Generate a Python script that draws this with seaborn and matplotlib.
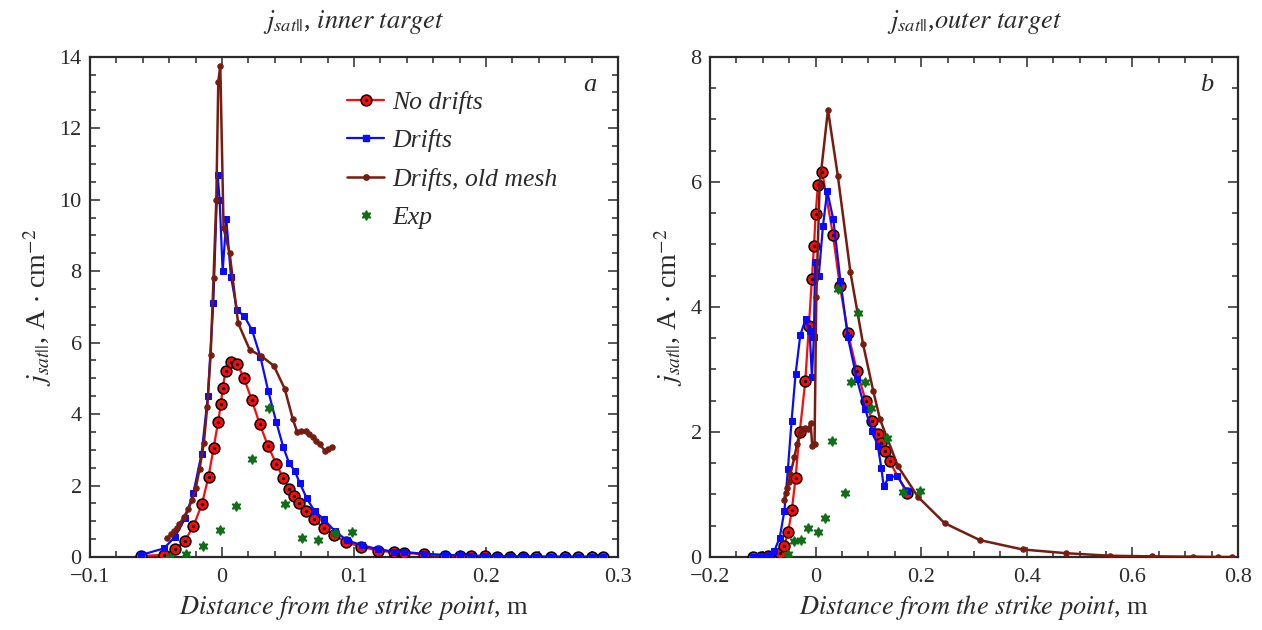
import numpy as np
import pandas as pd
import matplotlib
matplotlib.use("Agg")
import matplotlib.pyplot as plt
import seaborn as sns
from matplotlib.lines import Line2D
from matplotlib.legend_handler import HandlerTuple
from matplotlib.ticker import MultipleLocator

# ---- inner target (panel a) ----
in_nodrift_x = [-0.061, -0.044, -0.0355, -0.028, -0.0216, -0.0152, -0.0102, -0.0064, -0.003, -0.0008,
                0.0005, 0.0027, 0.0065, 0.0116, 0.0165, 0.0225, 0.0286, 0.0347, 0.0411, 0.0464,
                0.0509, 0.0548, 0.0585, 0.0639, 0.070, 0.077, 0.0849, 0.094, 0.105, 0.118,
                0.130, 0.138, 0.153, 0.169, 0.180, 0.189, 0.199, 0.208, 0.218, 0.228,
                0.238, 0.249, 0.260, 0.270, 0.280, 0.289]
in_nodrift_y = [0.03, 0.06, 0.21, 0.46, 0.87, 1.48, 2.25, 3.04, 3.77, 4.28,
                4.72, 5.21, 5.45, 5.40, 5.02, 4.40, 3.72, 3.12, 2.61, 2.20,
                1.91, 1.72, 1.51, 1.28, 1.05, 0.81, 0.61, 0.41, 0.29, 0.18,
                0.13, 0.12, 0.07, 0.04, 0.03, 0.02, 0.02, 0.01, 0.01, 0.01,
                0.01, 0.0, 0.0, 0.0, 0.0, 0.0]

in_drift_x = [-0.061, -0.044, -0.0355, -0.028, -0.0216, -0.0155, -0.0107, -0.0066, -0.0033, -0.0018,
              0.0005, 0.0033, 0.0068, 0.0114, 0.0167, 0.0228, 0.0291, 0.035, 0.0411, 0.0464,
              0.0509, 0.055, 0.0588, 0.0641, 0.0702, 0.077, 0.0854, 0.0945, 0.1057, 0.118,
              0.130, 0.138, 0.153, 0.169, 0.180, 0.189, 0.199, 0.208, 0.218, 0.228,
              0.238, 0.249, 0.260, 0.270, 0.280, 0.289]
in_drift_y = [0.06, 0.24, 0.57, 1.08, 1.80, 2.88, 4.50, 7.10, 10.70, 10.0,
              8.0, 9.45, 7.85, 6.90, 6.75, 6.35, 5.60, 4.65, 3.78, 3.08,
              2.62, 2.42, 2.08, 1.65, 1.28, 1.06, 0.73, 0.47, 0.33, 0.22,
              0.15, 0.14, 0.09, 0.06, 0.05, 0.04, 0.03, 0.02, 0.02, 0.02,
              0.01, 0.01, 0.01, 0.01, 0.01, 0.01]

in_old_x = [-0.0414, -0.0386, -0.0363, -0.0343, -0.0322, -0.0287, -0.0256, -0.0226, -0.0198, -0.017,
            -0.0137, -0.0112, -0.0086, -0.0064, -0.0043, -0.0028, -0.0013, 0.0012, 0.0058, 0.0122,
            0.021, 0.0299, 0.0393, 0.0476, 0.0537, 0.057, 0.0601, 0.0633, 0.0661, 0.0687,
            0.0712, 0.0742, 0.0778, 0.0806, 0.0831]
in_old_y = [0.52, 0.64, 0.73, 0.82, 0.92, 1.13, 1.34, 1.60, 1.94, 2.46,
            3.20, 4.20, 5.65, 7.80, 10.0, 13.3, 13.75, 9.2, 8.5, 6.55,
            5.80, 5.62, 5.35, 4.70, 3.85, 3.50, 3.52, 3.52, 3.45, 3.35,
            3.26, 3.15, 2.98, 3.01, 3.07]

in_exp_x = [-0.0393, -0.0272, -0.0145, -0.0018, 0.0106, 0.0228, 0.0357, 0.0481, 0.0608, 0.073, 0.0856, 0.0983]
in_exp_y = [0.01, 0.08, 0.31, 0.76, 1.44, 2.74, 4.18, 1.48, 0.54, 0.48, 0.68, 0.71]

# ---- outer target (panel b) ----
out_nodrift_x = [-0.119, -0.103, -0.090, -0.080, -0.068, -0.059, -0.052, -0.045, -0.038, -0.030,
                 -0.0195, -0.0127, -0.007, -0.003, 0.0, 0.0044, 0.0127, 0.0329, 0.046, 0.0613,
                 0.078, 0.0948, 0.107, 0.118, 0.1245, 0.131, 0.140, 0.173]
out_nodrift_y = [0.0, 0.0, 0.01, 0.02, 0.06, 0.18, 0.40, 0.75, 1.27, 2.0,
                 2.82, 3.70, 4.45, 4.98, 5.48, 5.95, 6.15, 5.15, 4.33, 3.58,
                 2.98, 2.50, 2.18, 1.96, 1.82, 1.70, 1.53, 1.02]

out_drift_x = [-0.119, -0.107, -0.097, -0.087, -0.078, -0.068, -0.059, -0.0525, -0.0455, -0.038,
               -0.029, -0.019, -0.0114, -0.007, -0.0032, -0.001, 0.006, 0.014, 0.022, 0.0335,
               0.047, 0.061, 0.078, 0.094, 0.107, 0.118, 0.1245, 0.129, 0.139, 0.155, 0.173]
out_drift_y = [0.0, 0.01, 0.02, 0.03, 0.10, 0.31, 0.74, 1.40, 2.18, 2.92,
               3.55, 3.80, 3.62, 2.88, 3.52, 4.72, 4.50, 5.30, 5.85, 5.40,
               4.42, 3.52, 2.85, 2.36, 2.02, 1.77, 1.42, 1.13, 1.28, 1.29, 1.05]

out_old_x = [-0.060, -0.057, -0.054, -0.051, -0.048, -0.040, -0.0354, -0.030, -0.025, -0.020,
             -0.014, -0.0095, -0.0063, -0.002, 0.0013, 0.0076, 0.0234, 0.042, 0.066, 0.090,
             0.109, 0.122, 0.156, 0.194, 0.2445, 0.311, 0.392, 0.475, 0.557, 0.638,
             0.715, 0.763, 0.788]
out_old_y = [0.91, 1.02, 1.10, 1.20, 1.32, 1.60, 1.80, 1.98, 2.04, 2.07,
             2.05, 2.15, 1.77, 1.80, 4.15, 5.95, 7.15, 6.10, 4.55, 3.40,
             2.66, 2.20, 1.45, 0.96, 0.54, 0.27, 0.12, 0.06, 0.02, 0.01,
             0.005, 0.0, 0.0]

out_exp_x = [-0.0525, -0.040, -0.027, -0.0146, 0.0044, 0.0177, 0.0303, 0.042, 0.055, 0.0676,
             0.080, 0.093, 0.1055, 0.135, 0.1655, 0.197]
out_exp_y = [0.05, 0.26, 0.27, 0.47, 0.40, 0.62, 1.85, 4.28, 1.03, 2.80,
             3.90, 2.80, 2.38, 1.90, 1.04, 1.05]

inner_xticks = [-0.1, 0, 0.1, 0.2, 0.3]
inner_xlabels = ["\u22120.1", "0", "0.1", "0.2", "0.3"]
outer_xticks = [-0.2, 0, 0.2, 0.4, 0.6, 0.8]
outer_xlabels = ["\u22120.2", "0", "0.2", "0.4", "0.6", "0.8"]

RED = "#ff0a0a"
BLUE = "#0a0aff"
BROWN = "#761c10"
GREEN = "#0f6e16"
INK = "#2a2a2a"

sns.set_style("ticks")
plt.rcParams["font.family"] = ["Liberation Serif", "DejaVu Serif"]
plt.rcParams["mathtext.fontset"] = "stix"
plt.rcParams["axes.edgecolor"] = INK
plt.rcParams["xtick.color"] = INK
plt.rcParams["ytick.color"] = INK
plt.rcParams["text.color"] = INK
plt.rcParams["axes.labelcolor"] = INK

fig = plt.figure(figsize=(12.62, 6.30), dpi=100)
ax1 = fig.add_axes([0.0713, 0.1159, 0.4184, 0.794])
ax2 = fig.add_axes([0.5626, 0.1159, 0.4184, 0.794])

star = (6, 1, 0)
RED_KW = dict(color=RED, lw=1.6, marker="o", markersize=7.8, markerfacecolor=RED,
              markeredgecolor="black", markeredgewidth=1.1)
DOT_KW = dict(ls="none", marker="o", markersize=1.4, color="black")
BLUE_KW = dict(color=BLUE, lw=1.6, marker="s", markersize=4.8, markerfacecolor=BLUE, markeredgecolor=BLUE)
BROWN_KW = dict(color=BROWN, lw=1.8, marker="o", markersize=3.9, markerfacecolor=BROWN, markeredgecolor=BROWN)
EXP_KW = dict(ls="none", marker=star, markersize=7, color=GREEN)


def draw(ax, nx, ny, dx, dy, ox, oy, ex, ey):
    sns.lineplot(x=nx, y=ny, ax=ax, sort=False, estimator=None, zorder=3, **RED_KW)
    ax.plot(nx, ny, zorder=3.5, **DOT_KW)
    sns.lineplot(x=dx, y=dy, ax=ax, sort=False, estimator=None, zorder=4, **BLUE_KW)
    sns.lineplot(x=ox, y=oy, ax=ax, sort=False, estimator=None, zorder=5, **BROWN_KW)
    ax.plot(ex, ey, zorder=6, **EXP_KW)


draw(ax1, in_nodrift_x, in_nodrift_y, in_drift_x, in_drift_y, in_old_x, in_old_y, in_exp_x, in_exp_y)
draw(ax2, out_nodrift_x, out_nodrift_y, out_drift_x, out_drift_y, out_old_x, out_old_y, out_exp_x, out_exp_y)

ax1.set_xlim(-0.1, 0.3)
ax1.set_ylim(0, 14)
ax1.set_xticks(inner_xticks, inner_xlabels)
ax1.xaxis.set_minor_locator(MultipleLocator(0.02))
ax1.yaxis.set_major_locator(MultipleLocator(2))
ax1.yaxis.set_minor_locator(MultipleLocator(0.5))

ax2.set_xlim(-0.2, 0.8)
ax2.set_ylim(0, 8)
ax2.set_xticks(outer_xticks, outer_xlabels)
ax2.xaxis.set_minor_locator(MultipleLocator(0.05))
ax2.yaxis.set_major_locator(MultipleLocator(2))
ax2.yaxis.set_minor_locator(MultipleLocator(0.5))

ylab = r"$j_{sat||}$, A $\cdot$ cm$^{-2}$"
xlab = r"$\mathit{Distance\ from\ the\ strike\ point}$, m"
for ax in (ax1, ax2):
    for s in ax.spines.values():
        s.set_linewidth(1.6)
        s.set_visible(True)
    ax.tick_params(which="both", direction="in", top=True, right=True, labelsize=16, width=1.1)
    ax.tick_params(which="major", length=7)
    ax.tick_params(which="minor", length=4)
    ax.tick_params(axis="x", which="both", pad=8)
    ax.tick_params(axis="y", which="both", pad=6)
    ax.set_xlabel(xlab, fontsize=19, labelpad=4)
    ax.set_ylabel(ylab, fontsize=20, labelpad=4)

ax1.set_title(r"$j_{sat||}$, $\mathit{inner\ target}$", fontsize=19, pad=21)
ax2.set_title(r"$j_{sat||}$,$\mathit{outer\ target}$", fontsize=19, pad=21)
ax1.text(0.947, 0.965, "a", transform=ax1.transAxes, fontsize=19, style="italic", ha="center", va="top")
ax2.text(0.94, 0.965, "b", transform=ax2.transAxes, fontsize=19, style="italic", ha="center", va="top")

h_nd = (Line2D([], [], **RED_KW), Line2D([], [], **DOT_KW))
h_d = Line2D([], [], **BLUE_KW)
h_o = Line2D([], [], **BROWN_KW)
h_e = Line2D([], [], **EXP_KW)
leg = ax1.legend([h_nd, h_d, h_o, h_e], ["No drifts", "Drifts", "Drifts, old mesh", "Exp"],
                 handler_map={tuple: HandlerTuple(ndivide=1, pad=0)},
                 loc="upper left", bbox_to_anchor=(0.487, 0.932), frameon=False,
                 prop={"style": "italic", "size": 18.5}, handlelength=1.45, handletextpad=0.3,
                 labelspacing=0.6, borderaxespad=0, borderpad=0)

fig.savefig("out.png", dpi=100)
